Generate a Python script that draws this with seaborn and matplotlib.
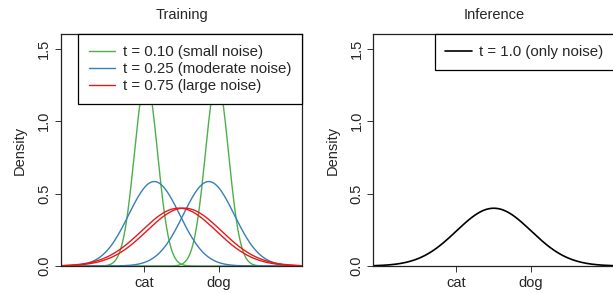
"""
Diffusion noise illustration: training vs inference densities.
"""

import numpy as np
import pandas as pd
import matplotlib
matplotlib.use('Agg')
import matplotlib.pyplot as plt
import seaborn as sns

# data
CLASS_NAMES = ['cat', 'dog']
CLASS_POS = [-1.0, 1.0]
T_LABELS = ['t = 0.10 (small noise)', 't = 0.25 (moderate noise)', 't = 0.75 (large noise)']
T_COLORS = ['#4DAF4A', '#377EB8', '#E41A1C']
T_SHIFT = [0.95, 0.73, 0.07]      # how far each mode still sits from 0
T_SPREAD = [0.31, 0.684, 0.998]   # std dev of each mode
INF_LABEL = 't = 1.0 (only noise)'
INF_MEAN = 0.0
INF_SPREAD = 1.0
Y_TICKS = [0.0, 0.5, 1.0, 1.5]
Y_TICK_LABELS = ['0.0', '0.5', '1.0', '1.5']

XS = np.linspace(-3.2, 3.2, 400)


def normal_pdf(x, mu, sd):
    return np.exp(-0.5 * ((x - mu) / sd) ** 2) / (sd * np.sqrt(2 * np.pi))


sns.set_theme(style='white')
plt.rcParams['font.family'] = ['Liberation Sans', 'DejaVu Sans']
FS = 10.5
LEG_FS = 10.8

fig = plt.figure(figsize=(6.13, 2.93), dpi=100)
ax1 = fig.add_axes([61 / 613, 1 - 266 / 293, 241 / 613, 231.7 / 293])
ax2 = fig.add_axes([373.3 / 613, 1 - 266 / 293, 241 / 613, 231.7 / 293])

# training panel: two modes per noise level
for label, color, shift, sd in zip(T_LABELS, T_COLORS, T_SHIFT, T_SPREAD):
    for i, sign in enumerate([-1, 1]):
        df = pd.DataFrame({'x': XS, 'y': normal_pdf(XS, sign * shift, sd)})
        sns.lineplot(data=df, x='x', y='y', color=color, linewidth=1.0,
                     label=label if i == 0 else None, ax=ax1)

# inference panel: pure noise
df = pd.DataFrame({'x': XS, 'y': normal_pdf(XS, INF_MEAN, INF_SPREAD)})
sns.lineplot(data=df, x='x', y='y', color='black', linewidth=1.2,
             label=INF_LABEL, ax=ax2)

for ax, title in [(ax1, 'Training'), (ax2, 'Inference')]:
    ax.set_xlim(-3.226, 3.226)
    ax.set_ylim(0, 1.6)
    ax.set_xticks(CLASS_POS)
    ax.set_xticklabels(CLASS_NAMES)
    ax.set_yticks(Y_TICKS)
    ax.set_yticklabels(Y_TICK_LABELS, rotation=90, va='center')
    ax.tick_params(direction='out', length=4, width=0.7, color='#333333',
                   labelsize=FS, pad=3, bottom=True, left=True)
    ax.set_xlabel('')
    ax.set_ylabel('Density', fontsize=FS)
    ax.yaxis.set_label_coords(-0.17, 0.5)
    ax.yaxis.label.set_va('center')
    ax.set_title(title, fontsize=FS, pad=11)
    for s in ax.spines.values():
        s.set_visible(True)
        s.set_color('#222222')
        s.set_linewidth(0.9)
    leg = ax.legend(loc='upper right', bbox_to_anchor=(1, 1), borderaxespad=0,
                    fancybox=False, edgecolor='black', framealpha=1,
                    fontsize=LEG_FS, handlelength=1.75, handletextpad=0.5,
                    borderpad=0.72, labelspacing=0.2)
    leg.get_frame().set_linewidth(0.9)

fig.savefig('out.png', dpi=100)
